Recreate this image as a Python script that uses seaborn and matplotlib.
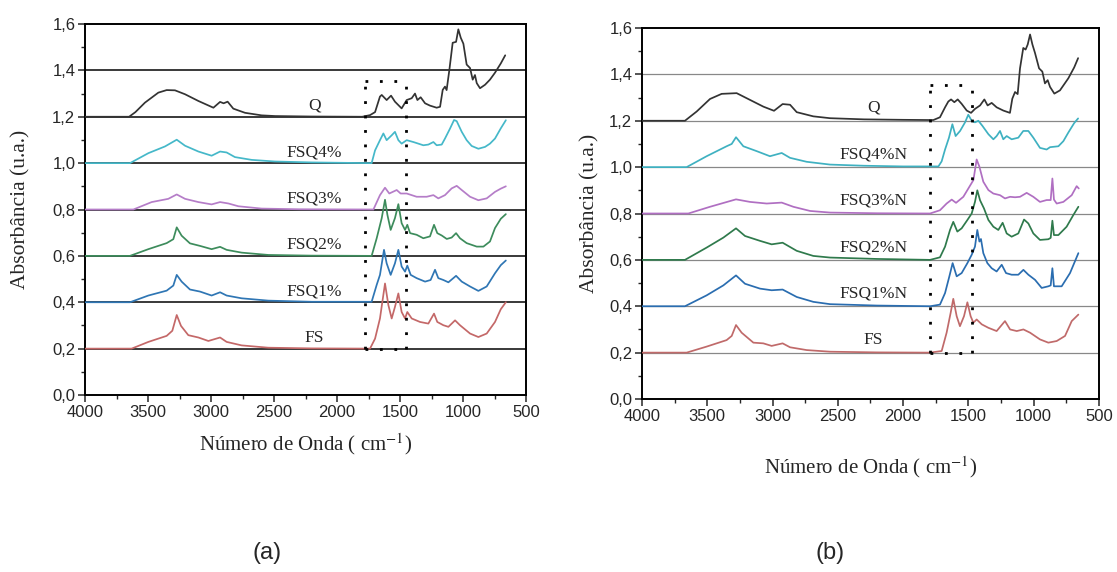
import numpy as np
import pandas as pd
import matplotlib
matplotlib.use('Agg')
import matplotlib.pyplot as plt
from matplotlib.ticker import MultipleLocator, FuncFormatter
import seaborn as sns

# Espectros FTIR: (numero de onda, absorbancia acima da linha de base)
# ---- painel (a) ----
q_a = [(4000, 0), (3650, 0), (3600, 0.02), (3524, 0.061), (3418, 0.104), (3352, 0.115), (3286, 0.114),
       (3206, 0.097), (3100, 0.068), (2981, 0.039), (2928, 0.064), (2900, 0.058), (2868, 0.065),
       (2823, 0.035), (2730, 0.017), (2598, 0.006), (2490, 0.003), (2200, 0.001), (1800, 0),
       (1738, 0.007), (1698, 0.02), (1659, 0.087), (1645, 0.094), (1606, 0.072), (1571, 0.091),
       (1540, 0.065), (1487, 0.036), (1447, 0.072), (1407, 0.08), (1381, 0.10), (1362, 0.072),
       (1336, 0.084), (1301, 0.058), (1262, 0.048), (1209, 0.039), (1182, 0.043), (1161, 0.116),
       (1143, 0.13), (1130, 0.115), (1108, 0.203), (1082, 0.319), (1055, 0.323), (1037, 0.377),
       (1018, 0.341), (997, 0.315), (971, 0.225), (944, 0.21), (923, 0.16), (905, 0.18), (891, 0.145),
       (865, 0.123), (825, 0.138), (786, 0.16), (746, 0.19), (700, 0.23), (665, 0.265)]
fsq4_a = [(4000, 0), (3643, 0), (3497, 0.043), (3365, 0.072), (3272, 0.101), (3206, 0.075), (3100, 0.05),
          (2995, 0.032), (2928, 0.05), (2876, 0.046), (2810, 0.026), (2677, 0.014), (2492, 0.007),
          (2200, 0.003), (1900, 0.001), (1725, 0), (1698, 0.055), (1659, 0.099), (1632, 0.128),
          (1606, 0.099), (1566, 0.12), (1540, 0.135), (1513, 0.099), (1487, 0.084), (1447, 0.099),
          (1394, 0.091), (1354, 0.084), (1315, 0.077), (1275, 0.08), (1235, 0.091), (1209, 0.077),
          (1169, 0.08), (1143, 0.106), (1103, 0.149), (1071, 0.186), (1050, 0.181), (1010, 0.135),
          (971, 0.099), (931, 0.074), (878, 0.062), (825, 0.07), (786, 0.084), (746, 0.106),
          (700, 0.15), (660, 0.185)]
fsq3_a = [(4000, 0), (3616, 0), (3471, 0.032), (3339, 0.046), (3272, 0.065), (3206, 0.046), (3100, 0.032),
          (2995, 0.022), (2928, 0.032), (2862, 0.026), (2783, 0.014), (2598, 0.004), (2300, 0.001),
          (1711, 0), (1659, 0.062), (1619, 0.094), (1585, 0.069), (1526, 0.084), (1495, 0.069),
          (1447, 0.069), (1368, 0.055), (1288, 0.055), (1235, 0.062), (1196, 0.048), (1143, 0.062),
          (1090, 0.091), (1050, 0.102), (1010, 0.084), (944, 0.055), (878, 0.04), (812, 0.048),
          (746, 0.076), (700, 0.09), (660, 0.10)]
fsq2_a = [(4000, 0), (3643, 0), (3497, 0.029), (3352, 0.055), (3299, 0.072), (3272, 0.123), (3233, 0.087),
          (3167, 0.054), (3087, 0.043), (2995, 0.029), (2928, 0.039), (2876, 0.026), (2757, 0.014),
          (2545, 0.004), (2200, 0.001), (1725, 0), (1685, 0.076), (1645, 0.163), (1619, 0.242),
          (1600, 0.177), (1574, 0.112), (1540, 0.163), (1513, 0.223), (1487, 0.141), (1460, 0.112),
          (1442, 0.134), (1420, 0.098), (1368, 0.091), (1315, 0.076), (1262, 0.084), (1230, 0.134),
          (1204, 0.098), (1169, 0.088), (1129, 0.073), (1090, 0.079), (1055, 0.098), (1024, 0.076),
          (971, 0.055), (891, 0.04), (838, 0.04), (786, 0.062), (746, 0.12), (700, 0.16), (660, 0.18)]
fsq1_a = [(4000, 0), (3643, 0), (3497, 0.029), (3352, 0.05), (3299, 0.072), (3272, 0.118), (3233, 0.089),
          (3167, 0.055), (3087, 0.046), (2995, 0.029), (2928, 0.043), (2876, 0.029), (2757, 0.017),
          (2545, 0.007), (2200, 0.002), (1725, 0.002), (1685, 0.075), (1659, 0.118), (1627, 0.226),
          (1606, 0.168), (1574, 0.118), (1540, 0.168), (1513, 0.226), (1487, 0.154), (1460, 0.132),
          (1442, 0.158), (1415, 0.118), (1368, 0.104), (1301, 0.089), (1257, 0.096), (1222, 0.14),
          (1196, 0.104), (1156, 0.096), (1116, 0.086), (1055, 0.114), (1010, 0.089), (944, 0.068),
          (878, 0.049), (812, 0.068), (746, 0.125), (700, 0.16), (660, 0.18)]
fs_a = [(4000, 0), (3630, 0), (3497, 0.029), (3352, 0.055), (3307, 0.077), (3272, 0.145), (3238, 0.098),
        (3180, 0.058), (3100, 0.048), (3021, 0.033), (2928, 0.048), (2876, 0.029), (2757, 0.014),
        (2545, 0.004), (2200, 0.001), (1738, 0), (1698, 0.043), (1659, 0.13), (1619, 0.281),
        (1592, 0.187), (1566, 0.13), (1540, 0.18), (1513, 0.238), (1487, 0.158), (1460, 0.13),
        (1442, 0.158), (1407, 0.13), (1341, 0.115), (1275, 0.108), (1230, 0.151), (1204, 0.115),
        (1156, 0.101), (1116, 0.094), (1063, 0.122), (1024, 0.101), (944, 0.065), (878, 0.05),
        (812, 0.065), (746, 0.115), (700, 0.17), (660, 0.2)]

# ---- painel (b) ----
q_b = [(4000, 0), (3671, 0), (3581, 0.04), (3479, 0.094), (3390, 0.116), (3275, 0.119), (3173, 0.09),
       (3071, 0.061), (2989, 0.043), (2923, 0.072), (2866, 0.069), (2815, 0.037), (2688, 0.019),
       (2560, 0.011), (2300, 0.006), (2000, 0.004), (1769, 0.003), (1718, 0.015), (1679, 0.058),
       (1654, 0.083), (1633, 0.092), (1608, 0.08), (1582, 0.092), (1552, 0.073), (1513, 0.044),
       (1480, 0.034), (1450, 0.051), (1411, 0.066), (1378, 0.092), (1353, 0.066), (1322, 0.077),
       (1284, 0.058), (1233, 0.044), (1182, 0.034), (1164, 0.095), (1143, 0.124), (1123, 0.115),
       (1105, 0.226), (1080, 0.314), (1062, 0.307), (1046, 0.329), (1028, 0.372), (1010, 0.329),
       (990, 0.292), (959, 0.226), (934, 0.212), (914, 0.161), (893, 0.175), (875, 0.146),
       (842, 0.117), (799, 0.131), (735, 0.183), (690, 0.23), (660, 0.27)]
fsq4_b = [(4000, 0), (3658, 0), (3505, 0.047), (3352, 0.09), (3313, 0.1), (3280, 0.129), (3224, 0.09),
          (3122, 0.069), (3020, 0.047), (2930, 0.061), (2866, 0.04), (2739, 0.023), (2560, 0.011),
          (2300, 0.006), (2000, 0.003), (1730, 0.003), (1705, 0.025), (1679, 0.076), (1649, 0.127),
          (1623, 0.185), (1598, 0.134), (1564, 0.156), (1526, 0.193), (1501, 0.226), (1475, 0.2),
          (1450, 0.193), (1424, 0.2), (1393, 0.178), (1347, 0.142), (1309, 0.12), (1284, 0.134),
          (1258, 0.156), (1233, 0.12), (1207, 0.134), (1169, 0.12), (1118, 0.127), (1080, 0.156),
          (1041, 0.156), (1003, 0.127), (952, 0.083), (901, 0.076), (875, 0.086), (811, 0.09),
          (773, 0.112), (735, 0.149), (690, 0.19), (660, 0.21)]
fsq3_b = [(4000, 0), (3645, 0), (3479, 0.029), (3280, 0.061), (3173, 0.05), (3045, 0.043), (2930, 0.047),
          (2841, 0.029), (2713, 0.011), (2560, 0.004), (2200, 0.001), (1794, 0), (1718, 0.014),
          (1667, 0.043), (1628, 0.06), (1595, 0.046), (1539, 0.072), (1493, 0.115), (1462, 0.144),
          (1437, 0.233), (1416, 0.202), (1386, 0.137), (1347, 0.101), (1309, 0.086), (1258, 0.079),
          (1220, 0.065), (1181, 0.072), (1143, 0.07), (1105, 0.072), (1054, 0.089), (1003, 0.072),
          (952, 0.05), (901, 0.058), (870, 0.058), (857, 0.151), (845, 0.06), (824, 0.043),
          (773, 0.05), (709, 0.079), (671, 0.118), (655, 0.108)]
fsq2_b = [(4000, 0), (3671, 0), (3505, 0.053), (3377, 0.096), (3280, 0.136), (3211, 0.103), (3096, 0.082),
          (3007, 0.067), (2923, 0.074), (2815, 0.039), (2688, 0.017), (2560, 0.01), (2200, 0.004),
          (1794, 0), (1718, 0.011), (1679, 0.057), (1641, 0.129), (1616, 0.164), (1585, 0.122),
          (1552, 0.136), (1508, 0.172), (1475, 0.2), (1450, 0.25), (1432, 0.3), (1411, 0.257),
          (1381, 0.222), (1347, 0.172), (1309, 0.143), (1271, 0.129), (1238, 0.16), (1207, 0.114),
          (1169, 0.1), (1118, 0.114), (1074, 0.174), (1041, 0.157), (1003, 0.114), (952, 0.086),
          (888, 0.089), (870, 0.095), (857, 0.169), (845, 0.107), (811, 0.107), (748, 0.143),
          (697, 0.193), (658, 0.229)]
fsq1_b = [(4000, 0), (3671, 0), (3505, 0.047), (3377, 0.09), (3280, 0.133), (3211, 0.097), (3096, 0.076),
          (3007, 0.069), (2923, 0.072), (2815, 0.04), (2688, 0.019), (2560, 0.009), (2200, 0.003),
          (1794, 0), (1718, 0.007), (1679, 0.057), (1646, 0.129), (1621, 0.186), (1590, 0.129),
          (1552, 0.143), (1508, 0.186), (1475, 0.222), (1450, 0.257), (1432, 0.329), (1416, 0.279),
          (1404, 0.29), (1386, 0.229), (1355, 0.186), (1322, 0.164), (1284, 0.15), (1245, 0.179),
          (1212, 0.143), (1169, 0.136), (1118, 0.136), (1079, 0.157), (1041, 0.136), (990, 0.114),
          (939, 0.079), (888, 0.086), (870, 0.09), (857, 0.164), (845, 0.086), (786, 0.086),
          (722, 0.143), (658, 0.229)]
fs_b = [(4000, 0), (3658, 0), (3505, 0.026), (3352, 0.054), (3313, 0.072), (3280, 0.119), (3237, 0.086),
        (3147, 0.043), (3071, 0.04), (3007, 0.029), (2923, 0.04), (2866, 0.023), (2739, 0.011),
        (2560, 0.004), (2200, 0.001), (1794, 0), (1705, 0.007), (1667, 0.086), (1636, 0.172),
        (1616, 0.232), (1590, 0.157), (1565, 0.114), (1534, 0.157), (1508, 0.217), (1483, 0.157),
        (1462, 0.129), (1437, 0.143), (1398, 0.122), (1347, 0.107), (1284, 0.093), (1220, 0.136),
        (1181, 0.1), (1130, 0.093), (1079, 0.1), (1028, 0.086), (952, 0.057), (888, 0.043),
        (824, 0.05), (760, 0.072), (709, 0.136), (658, 0.164)]

linha_base = [1.2, 1.0, 0.8, 0.6, 0.4, 0.2]
nomes_a = ['Q', 'FSQ4%', 'FSQ3%', 'FSQ2%', 'FSQ1%', 'FS']
nomes_b = ['Q', 'FSQ4%N', 'FSQ3%N', 'FSQ2%N', 'FSQ1%N', 'FS']
cores_a = ['#333333', '#45b8c9', '#b57dc8', '#3d8c5c', '#2f76b4', '#c46868']
cores_b = ['#333333', '#3fb1c1', '#b06fc2', '#2f7a4c', '#2a6db0', '#c06a6a']

# regiao marcada com pontilhado (x1, x2, y1, y2)
caixa_a = [1778, 1452, 0.2, 1.354]
caixa_b = [1794, 1475, 0.2, 1.354]


def monta_df(series, nomes):
    linhas = []
    for s, nome, base in zip(series, nomes, linha_base):
        for w, a in s:
            linhas.append({'w': w, 'abs': base + a, 'amostra': nome})
    return pd.DataFrame(linhas)


df_a = monta_df([q_a, fsq4_a, fsq3_a, fsq2_a, fsq1_a, fs_a], nomes_a)
df_b = monta_df([q_b, fsq4_b, fsq3_b, fsq2_b, fsq1_b, fs_b], nomes_b)

sns.set_style('ticks')
plt.rcParams['font.family'] = ['Liberation Sans', 'DejaVu Sans']
plt.rcParams['mathtext.fontset'] = 'stix'

fig = plt.figure(figsize=(11.17, 5.72), dpi=100)
ax_a = fig.add_axes([85 / 1117, 1 - 395 / 572, 441 / 1117, 371 / 572])
ax_b = fig.add_axes([642 / 1117, 1 - 399 / 572, 457 / 1117, 371 / 572])

virgula = FuncFormatter(lambda v, p: f'{v:.1f}'.replace('.', ','))


def desenha(ax, df, nomes, cores, caixa, cor_base, lw_base, x_rot, dy_rot, ylab_x, xlab_y):
    for b in linha_base + [1.4]:
        ax.axhline(b, color=cor_base, lw=lw_base, zorder=1)
    sns.lineplot(data=df, x='w', y='abs', hue='amostra', palette=dict(zip(nomes, cores)),
                 estimator=None, sort=False, legend=False, lw=1.25, ax=ax, zorder=3)
    x1, x2, y1, y2 = caixa
    for xs, ys in [([x1, x1], [y1, y2]), ([x2, x2], [y1, y2]), ([x1, x2], [y2, y2]), ([x1, x2], [y1, y1])]:
        ax.plot(xs, ys, color='black', lw=2.0, ls=(0, (1, 4.2)), zorder=4)
    for nome, b in zip(nomes, linha_base):
        ax.text(x_rot, b + dy_rot, nome, ha='center', va='center', fontsize=12.5,
                family='Liberation Serif', zorder=5)
    ax.set_xlim(4000, 500)
    ax.set_ylim(0, 1.6)
    ax.xaxis.set_major_locator(MultipleLocator(500))
    ax.xaxis.set_minor_locator(MultipleLocator(250))
    ax.yaxis.set_major_locator(MultipleLocator(0.2))
    ax.yaxis.set_minor_locator(MultipleLocator(0.1))
    ax.yaxis.set_major_formatter(virgula)
    ax.tick_params(which='major', direction='out', length=5, width=1.1, labelsize=12, pad=2)
    ax.tick_params(which='minor', direction='out', length=3, width=1)
    for sp in ax.spines.values():
        sp.set_linewidth(1.4)
        sp.set_color('black')
    ax.set_ylabel('Absorbância (u.a.)', fontsize=15.5, family='Liberation Serif', va='center')
    ax.yaxis.set_label_coords(ylab_x, 0.5)
    ax.set_xlabel('Número de Onda ( cm$^{-1}$)', fontsize=15, family='Liberation Serif', va='center')
    ax.xaxis.set_label_coords(0.5, xlab_y)


desenha(ax_a, df_a, nomes_a, cores_a, caixa_a, '#2a2a2a', 1.3, 2180, 0.047, -0.145, -0.132)
desenha(ax_b, df_b, nomes_b, cores_b, caixa_b, '#888888', 0.9, 2230, 0.055, -0.114, -0.183)

fig.text(267 / 1117, 1 - 553 / 572, '(a)', fontsize=17, ha='center', va='center')
fig.text(830 / 1117, 1 - 553 / 572, '(b)', fontsize=17, ha='center', va='center')

fig.savefig('out.png', dpi=100, facecolor='white')
